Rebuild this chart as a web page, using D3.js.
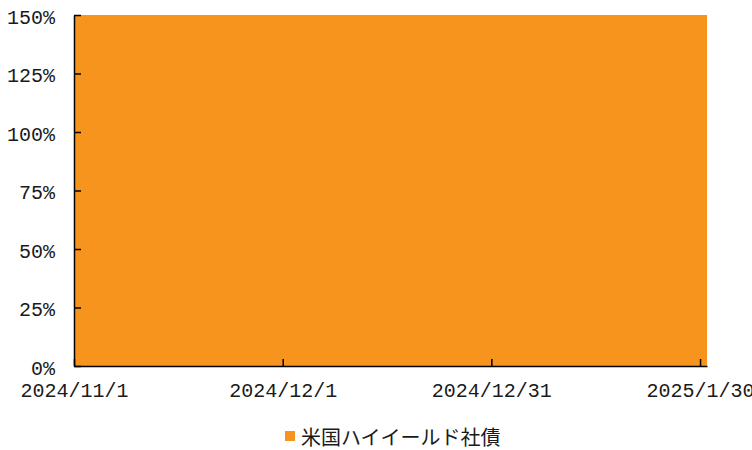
<!DOCTYPE html>
<html><head><meta charset="utf-8">
<script src="https://cdn.jsdelivr.net/npm/d3@7"></script>
<style>
body{margin:0;background:#fff;}
svg{display:block;}
.tick text{font-family:"Liberation Mono",monospace;font-size:20px;fill:#1a1a1a;}
</style></head>
<body>
<svg id="c" width="752" height="450"></svg>
<script>
// Data
const seriesName = "米国ハイイールド社債";
const dates = ["2024-11-01","2024-11-29","2024-12-31","2025-01-31"];
const values = [150, 150, 150, 150]; // share (%), fills the plot to the top
const xTickDates = ["2024-11-01","2024-12-01","2024-12-31","2025-01-30"];
const xTickLabels = ["2024/11/1","2024/12/1","2024/12/31","2025/1/30"];
const yTicks = [0,25,50,75,100,125,150];
const color = "#F7941D";

const parse = d3.utcParse("%Y-%m-%d");
const data = dates.map((d,i)=>({date:parse(d), v:values[i]}));

const svg = d3.select("#c");
const m = {l:74, t:15, r:45, b:84};
const W = 752, H = 450;
const x = d3.scaleUtc().domain([parse("2024-11-01"), parse("2025-01-31")]).range([m.l, W-m.r]);
const y = d3.scaleLinear().domain([0,150]).range([H-m.b, m.t]);

svg.append("path").datum(data)
  .attr("fill", color)
  .attr("d", d3.area().x(d=>x(d.date)).y0(y(0)).y1(d=>y(Math.min(d.v,150))));

const ya = svg.append("g").attr("transform",`translate(${m.l},0)`)
  .call(d3.axisLeft(y).tickValues(yTicks).tickFormat(d=>d+"%").tickSizeInner(-7).tickSizeOuter(0).tickPadding(19));
ya.select(".domain").attr("stroke","#000").attr("stroke-width",1.5);
ya.selectAll(".tick line").attr("stroke","#000").attr("stroke-width",1.5);
ya.selectAll(".tick text").attr("dy","0.4em");

const xa = svg.append("g").attr("transform",`translate(0,${y(0)})`)
  .call(d3.axisBottom(x).tickValues(xTickDates.map(parse)).tickFormat((d,i)=>xTickLabels[i]).tickSizeInner(-7).tickSizeOuter(0).tickPadding(17));
xa.select(".domain").attr("stroke","#000").attr("stroke-width",1.5);
xa.selectAll(".tick line").attr("stroke","#000").attr("stroke-width",1.5);

// legend
const lg = svg.append("g");
lg.append("rect").attr("x",285).attr("y",431).attr("width",10).attr("height",10).attr("fill",color);
lg.append("text").attr("x",301).attr("y",438).attr("dy","0.36em")
  .style("font-family","'Noto Sans CJK JP',sans-serif").style("font-size","20px").attr("fill","#1a1a1a")
  .text(seriesName);
</script>
</body></html>
